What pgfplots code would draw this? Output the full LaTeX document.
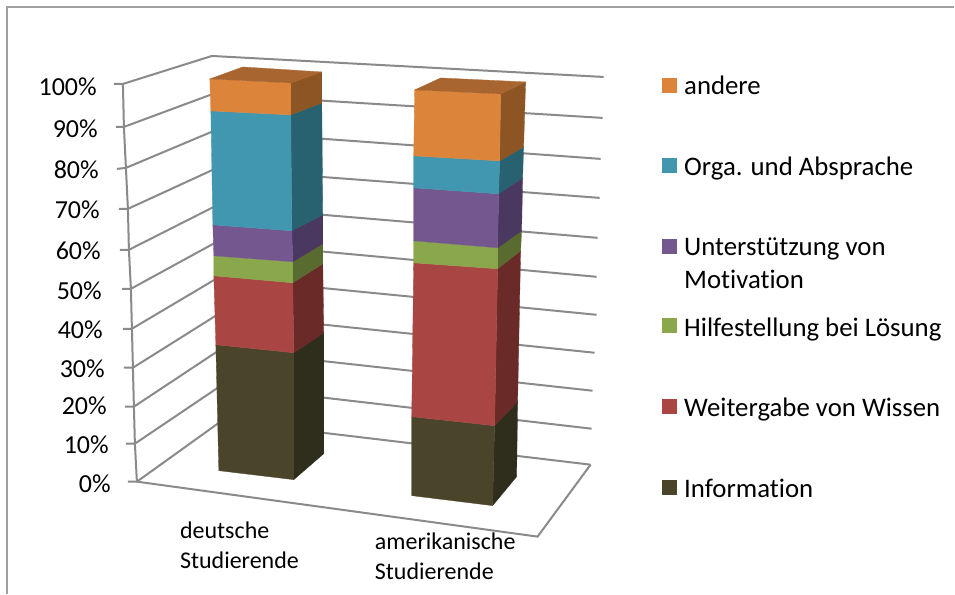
\documentclass[border=0pt]{standalone}
\usepackage{pgfplots}
\pgfplotsset{compat=1.18}
\usepackage{fontspec}
\setmainfont[Ligatures=NoCommon]{Carlito}
\definecolor{gridc}{HTML}{8A8A8A}
\definecolor{framec}{HTML}{A0A0A0}
\definecolor{infoF}{HTML}{4A452A}\definecolor{infoS}{HTML}{2F2D1B}
\definecolor{wissF}{HTML}{A94543}\definecolor{wissS}{HTML}{6A2A28}
\definecolor{hilfF}{HTML}{8BA74C}\definecolor{hilfS}{HTML}{5A6B30}
\definecolor{motiF}{HTML}{74578F}\definecolor{motiS}{HTML}{4A3860}
\definecolor{orgaF}{HTML}{4196B0}\definecolor{orgaS}{HTML}{28616F}
\definecolor{andeF}{HTML}{DC843A}\definecolor{andeS}{HTML}{8E5524}
\definecolor{andeT}{HTML}{A86530}
% one solid face of a column, given by its projected corners
\newcommand{\face}[2]{\addplot[fill=#1,draw=#1,line width=0.3pt] coordinates {#2} --cycle;}
\newcommand{\grid}[1]{\addplot[gridc,line width=2pt] coordinates {#1};}
\newcommand{\swatch}[3]{\addplot[fill=#1,draw=none] coordinates {(662,#2)(677,#2)(677,#3)(662,#3)} --cycle;}
\newcommand{\legtext}[2]{\node[anchor=base west,inner sep=0pt,font=\fontsize{26.8}{26.8}\selectfont,text=black] at (axis cs:684.5,#1) {#2};}
\newcommand{\ticktext}[2]{\node[anchor=base east,inner sep=0pt,font=\fontsize{26}{26}\selectfont,text=black] at (axis cs:#1) {#2};}
\newcommand{\cattext}[2]{\node[anchor=base west,inner sep=0pt,font=\fontsize{24}{24}\selectfont,text=black] at (axis cs:#1) {#2};}
\begin{document}
\begin{tikzpicture}
\begin{axis}[scale only axis,width=955pt,height=594pt,xmin=0,xmax=955,ymin=0,ymax=594,
  y dir=reverse,axis lines=none,clip=false,no marks]
% white page background
\addplot[fill=white,draw=none] coordinates {(0,0)(955,0)(955,594)(0,594)} --cycle;
% chart frame
\addplot[framec,line width=1.4pt] coordinates {(7,594)(7,7)(955,7)};
% gridlines on the side wall and the back wall, 100% down to 0%
\grid{(114,84)(123,84)(212,56)(604,77)}
\grid{(116,127)(124,127)(213,94)(603,118)}
\grid{(117,169)(126,168)(214,131)(601,159)}
\grid{(119,209)(128,209)(215,169)(600,198)}
\grid{(120,250)(129,250)(216,206)(598,238)}
\grid{(122,289)(131,289)(217,242)(597,277)}
\grid{(123,329)(132,329)(218,278)(597,315)}
\grid{(124,368)(133,368)(219,314)(595,353)}
\grid{(125,407)(134,407)(220,350)(593,391)}
\grid{(126,444)(135,444)(221,386)(592,429)}
\grid{(128,482)(137,482)(222,421)(591,465)}
% vertical axis and floor
\grid{(123,84)(124,127)(126,168)(128,209)(129,250)(131,289)(132,329)(133,368)(134,407)(135,444)(137,482)}
\grid{(137,482)(538,537)(591,465)}
% first column: deutsche Studierende
\face{infoS}{(294,480)(324,454)(324,333)(294,353)}
\face{infoF}{(219,471)(294,480)(294,353)(216,345)}
\face{wissS}{(294,353)(324,333)(323,264)(293,283)}
\face{wissF}{(216,345)(294,353)(293,283)(214,276)}
\face{hilfS}{(293,283)(323,264)(323,244)(293,262)}
\face{hilfF}{(214,276)(293,283)(293,262)(214,256)}
\face{motiS}{(293,262)(323,244)(323,215)(292,231)}
\face{motiF}{(214,256)(293,262)(292,231)(213,225)}
\face{orgaS}{(292,231)(323,215)(322,103)(291,115)}
\face{orgaF}{(213,225)(292,231)(291,115)(211,111)}
\face{andeS}{(291,115)(322,103)(322,72)(291,83)}
\face{andeF}{(211,111)(291,115)(291,83)(210,79)}
\face{andeT}{(210,79)(291,83)(322,72)(243,67)}
% second column: amerikanische Studierende
\face{infoS}{(493,506)(517,477)(518,402)(495,426)}
\face{infoF}{(412,496)(493,506)(495,426)(412,417)}
\face{wissS}{(495,426)(518,402)(521,251)(498,269)}
\face{wissF}{(412,417)(495,426)(498,269)(414,263)}
\face{hilfS}{(498,269)(521,251)(522,231)(498,248)}
\face{hilfF}{(414,263)(498,269)(498,248)(414,241)}
\face{motiS}{(498,248)(522,231)(523,178)(499,194)}
\face{motiF}{(414,241)(498,248)(499,194)(414,188)}
\face{orgaS}{(499,194)(523,178)(524,147)(500,161)}
\face{orgaF}{(414,188)(499,194)(500,161)(414,156)}
\face{andeS}{(500,161)(524,147)(526,82)(501,94)}
\face{andeF}{(414,156)(500,161)(501,94)(415,90)}
\face{andeT}{(415,90)(501,94)(526,82)(441,78)}
% legend keys
\swatch{andeF}{78}{93}
\swatch{orgaF}{158}{173}
\swatch{motiF}{239}{254}
\swatch{hilfF}{318}{333}
\swatch{wissF}{399}{414}
\swatch{infoF}{480}{495}
% legend entries
\legtext{94.5}{andere}
\legtext{175.5}{Orga. und Absprache}
\legtext{255.5}{Unterstützung von}
\legtext{288.5}{Motivation}
\legtext{336.5}{Hilfestellung bei Lösung}
\legtext{416.5}{Weitergabe von Wissen}
\legtext{497.5}{Information}
% percent labels
\ticktext{97,95.5}{100\%}
\ticktext{98,137.5}{90\%}
\ticktext{99,178.5}{80\%}
\ticktext{100,218.5}{70\%}
\ticktext{101,259.5}{60\%}
\ticktext{102,299.5}{50\%}
\ticktext{103,338.5}{40\%}
\ticktext{105,377.5}{30\%}
\ticktext{107,414.5}{20\%}
\ticktext{109,453.5}{10\%}
\ticktext{111,492.5}{0\%}
% category labels
\cattext{180,539}{deutsche}
\cattext{180,569}{Studierende}
\cattext{375,550}{amerikanische}
\cattext{375,580}{Studierende}
\end{axis}
\end{tikzpicture}
\end{document}
